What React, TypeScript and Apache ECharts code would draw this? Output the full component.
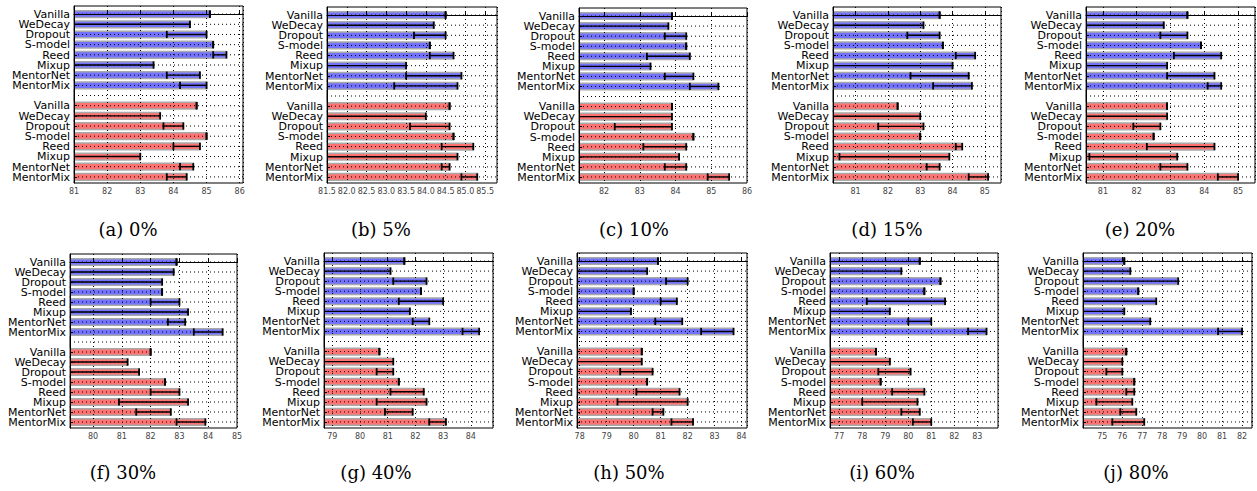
import React, { useEffect, useRef } from "react";
import * as echarts from "echarts";

// ---------- data ----------
const methods = ["Vanilla", "WeDecay", "Dropout", "S-model", "Reed", "Mixup", "MentorNet", "MentorMix"];
const captions = ["(a) 0%", "(b) 5%", "(c) 10%", "(d) 15%", "(e) 20%", "(f) 30%", "(g) 40%", "(h) 50%", "(i) 60%", "(j) 80%"];

// x-axis ranges / tick steps per panel
const xMins = [81, 81.5, 81.3, 80.3, 80.5, 79.2, 78.7, 77.9, 76.6, 74.03];
const xMaxs = [86.1, 85.8, 86, 85.5, 85.5, 85, 84.8, 84.2, 83.9, 82.5];
const xSteps = [1, 0.5, 1, 1, 1, 1, 1, 1, 1, 1];

// (a) 0%
const blueA = [85.1, 84.5, 85.0, 85.2, 85.6, 83.4, 84.8, 85.0];
const blueLowA = [85.1, 80.5, 83.8, 85.2, 85.2, 80.5, 83.8, 84.2];
const redA = [84.7, 83.6, 84.3, 85.0, 84.8, 83.0, 84.6, 84.4];
const redLowA = [84.7, 80.5, 83.7, 85.0, 84.0, 80.5, 84.2, 83.8];
// (b) 5%
const blueB = [84.5, 84.2, 84.5, 84.1, 84.7, 83.5, 84.9, 84.8];
const blueLowB = [84.5, 81.0, 83.7, 84.1, 84.1, 81.0, 83.5, 83.2];
const redB = [84.6, 84.0, 84.6, 84.7, 85.2, 84.8, 84.6, 85.3];
const redLowB = [84.6, 81.0, 83.6, 84.7, 84.4, 81.0, 84.4, 84.9];
// (c) 10%
const blueC = [83.9, 83.8, 84.3, 84.3, 84.4, 83.3, 84.5, 85.2];
const blueLowC = [83.9, 81.0, 83.7, 84.3, 83.2, 81.0, 83.7, 84.4];
const redC = [83.9, 83.9, 83.9, 84.5, 84.3, 84.1, 84.3, 85.5];
const redLowC = [83.9, 81.0, 82.3, 84.5, 83.1, 81.0, 83.7, 84.9];
// (d) 15%
const blueD = [83.6, 83.1, 83.6, 83.7, 84.7, 84.0, 84.5, 84.6];
const blueLowD = [83.6, 80.0, 82.6, 83.7, 84.1, 80.0, 82.7, 83.4];
const redD = [82.3, 83.0, 83.1, 83.0, 84.3, 83.9, 83.6, 85.1];
const redLowD = [82.3, 80.0, 81.7, 83.0, 84.1, 80.5, 83.2, 84.5];
// (e) 20%
const blueE = [83.5, 82.8, 83.5, 83.9, 84.5, 82.9, 84.3, 84.5];
const blueLowE = [83.5, 80.0, 82.7, 83.9, 83.1, 80.0, 82.9, 84.1];
const redE = [82.9, 82.9, 82.7, 82.5, 84.3, 83.2, 83.5, 85.0];
const redLowE = [82.9, 80.0, 81.9, 82.5, 82.3, 80.6, 82.7, 84.4];
// (f) 30%
const blueF = [82.9, 82.8, 82.4, 82.4, 83.0, 83.3, 83.2, 84.5];
const blueLowF = [82.9, 78.5, 78.5, 82.4, 82.0, 78.5, 82.6, 83.5];
const redF = [82.0, 81.2, 81.6, 82.5, 83.0, 83.3, 82.7, 83.9];
const redLowF = [82.0, 78.5, 78.5, 82.5, 82.0, 80.9, 81.5, 82.9];
// (g) 40%
const blueG = [81.6, 81.1, 82.4, 82.2, 83.0, 81.8, 82.5, 84.3];
const blueLowG = [81.6, 78.0, 81.2, 82.2, 81.4, 78.0, 81.9, 83.7];
const redG = [80.7, 81.2, 81.2, 81.4, 82.3, 82.4, 81.9, 83.1];
const redLowG = [80.7, 78.0, 80.6, 81.4, 81.1, 80.6, 80.9, 82.5];
// (h) 50%
const blueH = [80.9, 80.5, 82.0, 80.0, 81.6, 79.9, 81.8, 83.7];
const blueLowH = [80.9, 77.0, 81.2, 80.0, 81.0, 77.0, 80.8, 82.5];
const redH = [80.3, 80.3, 80.7, 80.5, 81.7, 82.0, 81.1, 82.2];
const redLowH = [80.3, 77.0, 79.5, 80.5, 80.1, 79.4, 80.7, 81.4];
// (i) 60%
const blueI = [80.5, 79.7, 81.4, 80.7, 81.6, 79.2, 81.0, 83.4];
const blueLowI = [80.5, 76.0, 81.4, 80.7, 78.2, 76.0, 80.0, 82.6];
const redI = [78.6, 79.2, 80.1, 78.8, 80.7, 80.4, 80.5, 81.0];
const redLowI = [78.6, 76.0, 78.7, 78.8, 79.3, 78.0, 79.7, 80.2];
// (j) 80%
const blueJ = [76.1, 76.4, 78.8, 76.8, 77.7, 76.1, 77.4, 82.0];
const blueLowJ = [76.1, 73.0, 73.0, 76.8, 73.0, 73.0, 73.0, 80.8];
const redJ = [76.2, 76.0, 76.0, 76.6, 76.6, 76.5, 76.7, 77.1];
const redLowJ = [76.2, 73.0, 75.2, 76.6, 76.2, 74.7, 75.9, 75.5];

const panelData = [
  [blueA, blueLowA, redA, redLowA],
  [blueB, blueLowB, redB, redLowB],
  [blueC, blueLowC, redC, redLowC],
  [blueD, blueLowD, redD, redLowD],
  [blueE, blueLowE, redE, redLowE],
  [blueF, blueLowF, redF, redLowF],
  [blueG, blueLowG, redG, redLowG],
  [blueH, blueLowH, redH, redLowH],
  [blueI, blueLowI, redI, redLowI],
  [blueJ, blueLowJ, redJ, redLowJ],
];

// ---------- layout ----------
// [left, top, right, bottom] of each plot box in pixels
const boxes = [
  [74, 6, 243, 183],
  [327, 7, 497, 183],
  [579, 8, 747, 183],
  [833, 7, 1001, 183],
  [1086, 7, 1255, 183],
  [70, 254, 237, 428],
  [324, 253, 493, 428],
  [577, 253, 747, 428],
  [830, 253, 998, 428],
  [1083, 253, 1252, 428],
];
const captionPos = [
  [128, 229], [381, 229], [634, 229], [887, 229], [1140, 229],
  [123, 472], [376, 472], [629, 472], [882, 472], [1136, 472],
];

const BLUE = "rgb(114,114,252)";
const RED = "rgb(255,114,114)";
const rowLabels = [...methods, "", ...methods];
const tickRows = [0, 1, 2, 3, 4, 5, 6, 7, 9, 10, 11, 12, 13, 14, 15, 16];

function renderRow(params: any, api: any) {
  const cs = params.coordSys;
  const row = api.value(0);
  const val = api.value(1);
  const low = api.value(2);
  const kind = api.value(3);
  const p = api.coord([val, row]);
  const py = p[1];
  const unit = api.size([0, 1])[1];
  const h = unit * 0.66;
  const children: any[] = [];
  if (kind !== 2) {
    children.push({
      type: "rect",
      shape: { x: cs.x, y: py - h / 2, width: Math.max(0, p[0] - cs.x), height: h },
      style: { fill: kind === 0 ? BLUE : RED, stroke: "#a9a9a9", lineWidth: 1.5 },
    });
    children.push({
      type: "text",
      x: cs.x - 4,
      y: py,
      scaleX: 1.1,
      style: {
        text: rowLabels[row], fontSize: 10, fontFamily: "DejaVu Sans", fill: "#000",
        lineHeight: 9, align: "right", verticalAlign: "middle",
        textAlign: "right", textVerticalAlign: "middle",
      },
    });
  }
  children.push({
    type: "line",
    shape: { x1: cs.x, y1: py, x2: cs.x + cs.width, y2: py },
    style: { stroke: "#000", lineWidth: 1, lineDash: [1, 3] },
  });
  if (kind !== 2) {
    const lp = api.coord([low, row])[0];
    const clamped = lp < cs.x;
    const lx = clamped ? cs.x : lp;
    const capH = 3.6;
    children.push({
      type: "line",
      shape: { x1: lx, y1: py, x2: p[0], y2: py },
      style: { stroke: "#000", lineWidth: 1.4 },
    });
    children.push({
      type: "line",
      shape: { x1: p[0], y1: py - capH, x2: p[0], y2: py + capH },
      style: { stroke: "#000", lineWidth: 1.8 },
    });
    if (!clamped) {
      children.push({
        type: "line",
        shape: { x1: lx, y1: py - capH, x2: lx, y2: py + capH },
        style: { stroke: "#000", lineWidth: 1.8 },
      });
    }
  }
  return { type: "group", children };
}

function buildOption() {
  const grids: any[] = [];
  const xAxes: any[] = [];
  const yAxes: any[] = [];
  const series: any[] = [];
  boxes.forEach((b, k) => {
    grids.push({
      left: b[0], top: b[1], width: b[2] - b[0], height: b[3] - b[1],
      show: true, borderColor: "#000", borderWidth: 1, backgroundColor: "#fff",
    });
    const min = xMins[k];
    const max = xMaxs[k];
    const step = xSteps[k];
    const isTick = (v: number) => Math.abs(v / step - Math.round(v / step)) < 1e-6;
    xAxes.push({
      type: "value", gridIndex: k, min, max, minInterval: step, maxInterval: step,
      z: 4,
      axisLine: { show: true, lineStyle: { color: "#000", width: 1 } },
      axisTick: { show: true, inside: true, length: 3, lineStyle: { color: "#000" } },
      axisLabel: {
        interval: 0, fontSize: 8, color: "#444", margin: 4, fontFamily: "DejaVu Sans",
        showMinLabel: isTick(min), showMaxLabel: isTick(max),
        formatter: (v: number) => (step < 1 ? v.toFixed(1) : String(Math.round(v))),
      },
      splitLine: { show: true, lineStyle: { color: "#000", width: 1, type: [1, 3] } },
    });
    yAxes.push({
      type: "value", gridIndex: k, inverse: true, min: -0.8, max: 16.6, z: 4,
      axisLine: { show: true, lineStyle: { color: "#000", width: 1 } },
      axisTick: { show: true, inside: true, length: 3, customValues: tickRows, lineStyle: { color: "#000" } },
      axisLabel: { show: false },
      splitLine: { show: false },
    });
    const [blue, blueLow, red, redLow] = panelData[k];
    const rows: any[] = [];
    blue.forEach((v, i) => rows.push([i, v, blueLow[i], 0]));
    rows.push([8, min, min, 2]);
    red.forEach((v, i) => rows.push([9 + i, v, redLow[i], 1]));
    series.push({
      type: "custom", xAxisIndex: k, yAxisIndex: k, silent: true, z: 2, clip: false,
      dimensions: ["row", "value", "low", "kind"],
      encode: { x: 1, y: 0 },
      data: rows,
      renderItem: renderRow,
    });
  });
  const graphic = captions.map((c, k) => ({
    type: "text", x: captionPos[k][0], y: captionPos[k][1], silent: true,
    style: {
      text: c, fontSize: 18, fontFamily: "DejaVu Serif", fill: "#000",
      align: "center", verticalAlign: "middle", textAlign: "center", textVerticalAlign: "middle",
    },
  }));
  return {
    animation: false,
    backgroundColor: "#fff",
    grid: grids, xAxis: xAxes, yAxis: yAxes, series, graphic,
  };
}

export default function App() {
  const ref = useRef<HTMLDivElement>(null);
  useEffect(() => {
    if (!ref.current) return;
    const chart = echarts.init(ref.current, null, { renderer: "svg" });
    chart.setOption(buildOption() as any);
    return () => chart.dispose();
  }, []);
  return <div ref={ref} style={{ position: "absolute", left: 0, top: 0, width: 1257, height: 491 }} />;
}
